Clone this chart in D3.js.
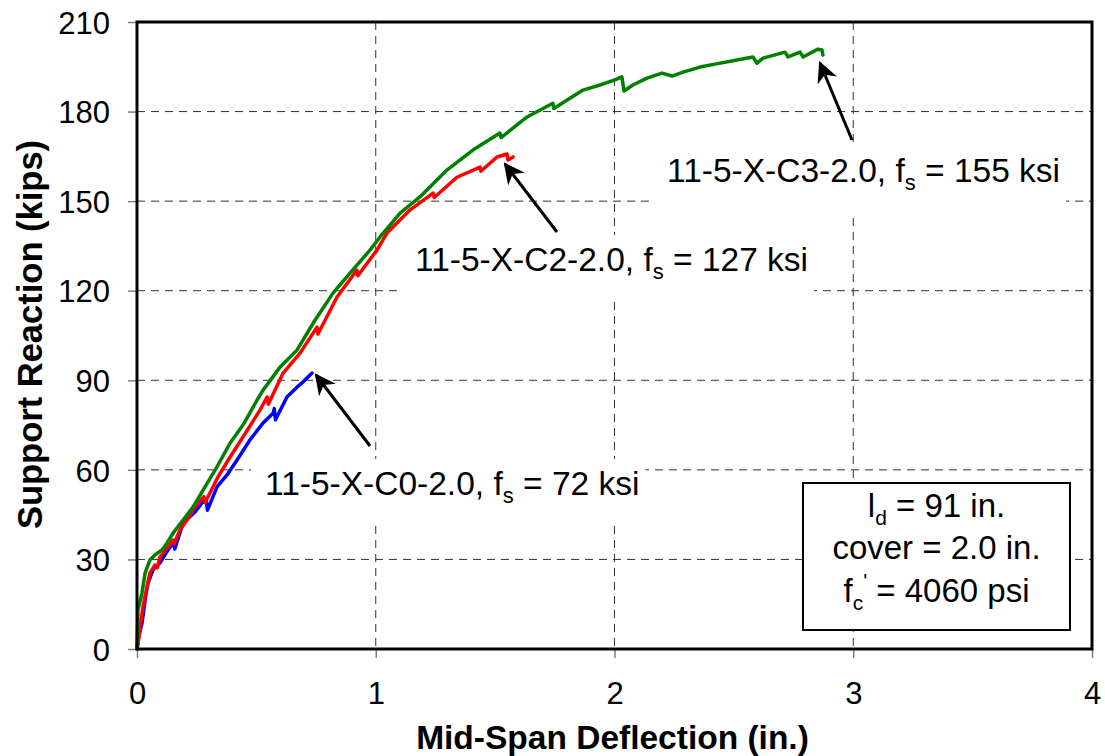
<!DOCTYPE html>
<html><head><meta charset="utf-8">
<script src="https://cdn.jsdelivr.net/npm/d3@7"></script>
<style>
html,body{margin:0;padding:0;background:#fff;}
svg text{font-family:"Liberation Sans",Arial,sans-serif;}
</style></head>
<body>
<svg id="chart" width="1105" height="756"></svg>
<script>
// ---- data (deflection in., reaction kips) ----
const xTicks = [0, 1, 2, 3, 4];
const yTicks = [0, 30, 60, 90, 120, 150, 180, 210];

const c0Defl = [0, 0.004, 0.021, 0.034, 0.046, 0.067, 0.096, 0.13, 0.151, 0.158, 0.193, 0.243, 0.272, 0.29, 0.295, 0.335, 0.377, 0.419, 0.473, 0.528, 0.57, 0.575, 0.58, 0.628, 0.67, 0.695, 0.733];
const c0Load = [0, 3, 8.7, 16.4, 22.1, 26.5, 28.8, 33.2, 35.5, 33.5, 42.2, 45.9, 48.9, 49.8, 46.5, 54.3, 58.3, 63.3, 70, 75.7, 79, 80.5, 76.8, 84.4, 87.7, 89.4, 92.4];

const c2Defl = [0, 0.005, 0.013, 0.025, 0.042, 0.054, 0.075, 0.085, 0.096, 0.126, 0.151, 0.155, 0.18, 0.209, 0.243, 0.28, 0.285, 0.339, 0.39, 0.444, 0.515, 0.545, 0.55, 0.612, 0.683, 0.754, 0.758, 0.838, 0.921, 0.925, 1.005, 1.047, 1.143, 1.24, 1.245, 1.34, 1.437, 1.44, 1.508, 1.55, 1.554, 1.575];
const c2Load = [0, 2, 7.4, 14.1, 20.8, 25.5, 28.1, 27.2, 30.8, 33.8, 36.5, 35.2, 39.9, 43.2, 47.6, 51, 49, 57.6, 64.3, 71, 80, 84.4, 82, 92.4, 99.1, 107.8, 105.5, 117.9, 126.9, 125, 133.6, 139.3, 147, 152.7, 151.2, 158, 161.4, 160, 164.8, 165.8, 163.8, 164.8];

const c3Defl = [0, 0.004, 0.021, 0.034, 0.054, 0.075, 0.105, 0.126, 0.151, 0.193, 0.235, 0.335, 0.39, 0.444, 0.503, 0.528, 0.599, 0.67, 0.746, 0.821, 0.892, 0.976, 1.018, 1.102, 1.185, 1.298, 1.407, 1.52, 1.525, 1.634, 1.742, 1.746, 1.868, 1.939, 2.002, 2.031, 2.04, 2.077, 2.136, 2.199, 2.241, 2.287, 2.358, 2.421, 2.513, 2.58, 2.597, 2.622, 2.714, 2.727, 2.777, 2.79, 2.852, 2.869, 2.873];
const c3Load = [0, 13, 18.8, 25.5, 29.8, 31.5, 33.2, 35.5, 38.8, 43.2, 47.6, 61, 69, 75, 83.4, 86.7, 94.4, 100.1, 110.2, 119.2, 125.9, 133.6, 138, 146, 151.4, 160.4, 167.1, 172.8, 171.3, 178.2, 182.8, 181, 187.2, 188.9, 190.6, 191.6, 186.9, 188.9, 191.2, 192.9, 191.9, 193.2, 194.9, 195.9, 197.3, 198.3, 196.2, 197.9, 199.9, 198.3, 199.9, 198.3, 200.9, 200.6, 198.9];

const seriesNames = ["11-5-X-C0-2.0", "11-5-X-C2-2.0", "11-5-X-C3-2.0"];
const seriesStress = ["72", "127", "155"];
const seriesColors = ["#0000ff", "#ff0000", "#008000"];
const boxLines = ["91 in.", "2.0 in.", "4060 psi"];

// ---- layout ----
const svg = d3.select("#chart");
const L = 137, R = 1092, T = 22, B = 649;
const x = d3.scaleLinear().domain([0, 4]).range([L, R]);
const y = d3.scaleLinear().domain([0, 210]).range([B, T]);

svg.append("rect").attr("width", 1105).attr("height", 756).attr("fill", "#fff");
const grid = svg.append("g").attr("stroke", "#333").attr("stroke-width", 1).attr("stroke-dasharray", "8,6");
const ann = svg.append("g");
const plot = svg.append("g");
const arrows = svg.append("g");
const fg = svg.append("g");

// grid
grid.selectAll(".gx").data(xTicks.filter(d => d > 0 && d < 4)).enter().append("line")
  .attr("x1", d => x(d)).attr("x2", d => x(d)).attr("y1", T).attr("y2", B);
grid.selectAll(".gy").data(yTicks.filter(d => d > 0 && d < 210)).enter().append("line")
  .attr("x1", L).attr("x2", R).attr("y1", d => y(d)).attr("y2", d => y(d));

// axes
const xAxis = d3.axisBottom(x).tickValues(xTicks).tickSize(9).tickPadding(24).tickFormat(d3.format("d"));
const yAxis = d3.axisLeft(y).tickValues(yTicks).tickSize(9).tickPadding(18).tickFormat(d3.format("d"));
const gx = fg.append("g").attr("transform", `translate(0,${B})`).call(xAxis);
const gy = fg.append("g").attr("transform", `translate(${L},0)`).call(yAxis);
[gx, gy].forEach(g => {
  g.select(".domain").remove();
  g.selectAll(".tick line").attr("stroke", "#808080").attr("stroke-width", 1.5);
  g.selectAll(".tick text").attr("font-size", 31).attr("fill", "#000")
    .style("font-family", "'Liberation Sans', Arial, sans-serif");
});
gy.selectAll(".tick text").attr("dy", "0.36em");

const labelPos = [
  {tx: 265, ty: 495, ax1: 370, ay1: 446, ax2: 316, ay2: 375},
  {tx: 415, ty: 271, ax1: 557, ay1: 232, ax2: 505, ay2: 164},
  {tx: 667, ty: 182, ax1: 852, ay1: 140, ax2: 820, ay2: 63}
];

// annotation labels with white backgrounds
seriesNames.forEach((name, i) => {
  const p = labelPos[i];
  const g = ann.append("g");
  const t = g.append("text").attr("x", p.tx).attr("y", p.ty).attr("font-size", 33.5).attr("fill", "#000");
  t.append("tspan").text(name + ", f");
  t.append("tspan").attr("font-size", 22).attr("dy", 8).text("s");
  t.append("tspan").attr("dy", -8).text(" = " + seriesStress[i] + " ksi");
  const bb = t.node().getBBox();
  g.insert("rect", "text").attr("x", bb.x - 14).attr("y", bb.y - 6).attr("width", bb.width + 20).attr("height", bb.height + 24).attr("fill", "#fff");
});

// curves
const line = d3.line().x(d => x(d[0])).y(d => y(d[1]));
const series = [d3.zip(c0Defl, c0Load), d3.zip(c2Defl, c2Load), d3.zip(c3Defl, c3Load)];
series.forEach((s, i) => {
  plot.append("path").datum(s).attr("d", line).attr("fill", "none")
    .attr("stroke", seriesColors[i]).attr("stroke-width", 3.5).attr("stroke-linejoin", "round").attr("stroke-linecap", "round");
});

// arrows
const defs = svg.append("defs");
defs.append("marker").attr("id", "ah").attr("viewBox", "0 0 10 10").attr("refX", 9).attr("refY", 5)
  .attr("markerWidth", 7).attr("markerHeight", 7).attr("markerUnits", "strokeWidth").attr("orient", "auto")
  .append("path").attr("d", "M0,0 L10,5 L0,10 L3,5 Z").attr("fill", "#000");
labelPos.forEach(p => {
  arrows.append("line").attr("x1", p.ax1).attr("y1", p.ay1).attr("x2", p.ax2).attr("y2", p.ay2)
    .attr("stroke", "#000").attr("stroke-width", 3).attr("marker-end", "url(#ah)");
});

// frame
fg.append("rect").attr("x", L).attr("y", T).attr("width", R - L).attr("height", B - T)
  .attr("fill", "none").attr("stroke", "#000").attr("stroke-width", 3);

// info box
const bx = 803, by = 483, bw = 267, bh = 147;
fg.append("rect").attr("x", bx).attr("y", by).attr("width", bw).attr("height", bh)
  .attr("fill", "#fff").attr("stroke", "#000").attr("stroke-width", 2);
const cx = bx + bw / 2;
const fs = 33;
const t1 = fg.append("text").attr("x", cx).attr("y", 517).attr("text-anchor", "middle").attr("font-size", fs);
t1.append("tspan").text("l");
t1.append("tspan").attr("font-size", 21).attr("dy", 8).text("d");
t1.append("tspan").attr("dy", -8).text(" = " + boxLines[0]);
fg.append("text").attr("x", cx).attr("y", 559).attr("text-anchor", "middle").attr("font-size", fs)
  .text("cover = " + boxLines[1]);
const t3 = fg.append("text").attr("x", cx).attr("y", 602).attr("text-anchor", "middle").attr("font-size", fs);
t3.append("tspan").text("f");
t3.append("tspan").attr("font-size", 21).attr("dy", 8).text("c");
t3.append("tspan").attr("font-size", 21).attr("dy", -22).text("'");
t3.append("tspan").attr("dy", 14).text(" = " + boxLines[2]);

// axis titles
fg.append("text").attr("x", (L + R) / 2 - 2).attr("y", 749).attr("text-anchor", "middle")
  .attr("font-size", 33.5).attr("font-weight", "bold").text("Mid-Span Deflection (in.)");
fg.append("text").attr("transform", `translate(42,${(T + B) / 2 - 1}) rotate(-90)`).attr("text-anchor", "middle")
  .attr("font-size", 34.5).attr("font-weight", "bold").text("Support Reaction (kips)");
</script>
</body></html>
